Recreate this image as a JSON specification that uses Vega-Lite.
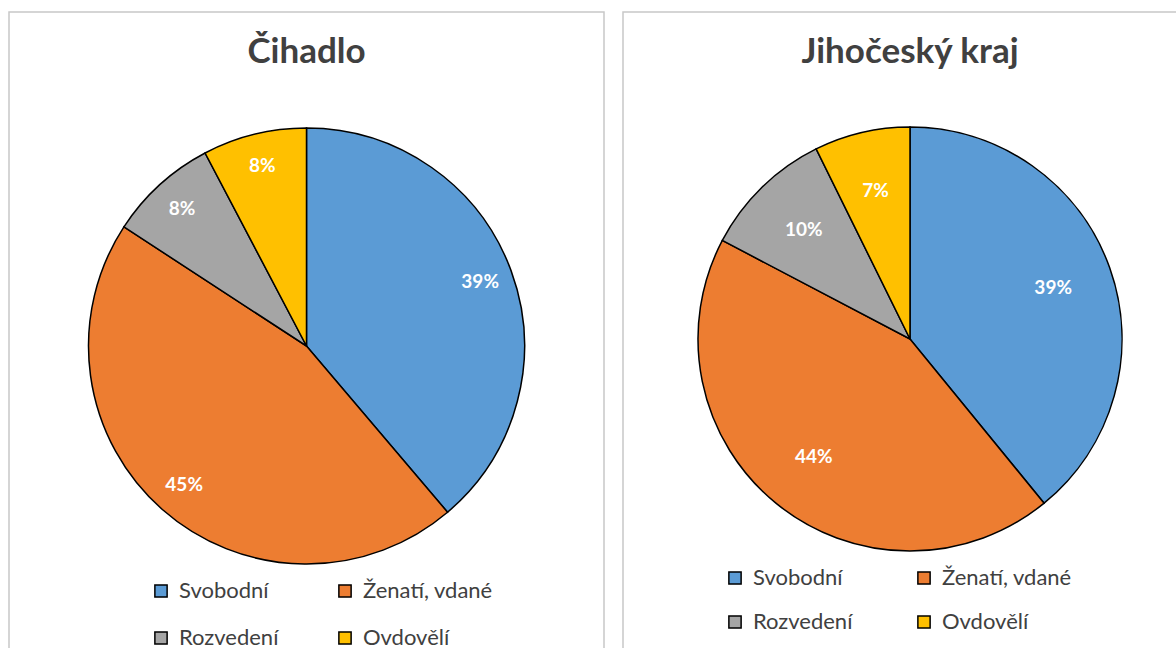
{
  "$schema": "https://vega.github.io/schema/vega-lite/v6.json",
  "padding": {"left": 8, "top": 11, "right": 0, "bottom": 0},
  "background": "white",
  "datasets": {
    "cihadlo": [
      {"stav": "Svobodní", "podil": 0.388, "poradi": 1},
      {"stav": "Ženatí, vdané", "podil": 0.454, "poradi": 2},
      {"stav": "Rozvedení", "podil": 0.081, "poradi": 3},
      {"stav": "Ovdovělí", "podil": 0.077, "poradi": 4}
    ],
    "jihocesky": [
      {"stav": "Svobodní", "podil": 0.391, "poradi": 1},
      {"stav": "Ženatí, vdané", "podil": 0.436, "poradi": 2},
      {"stav": "Rozvedení", "podil": 0.100, "poradi": 3},
      {"stav": "Ovdovělí", "podil": 0.073, "poradi": 4}
    ]
  },
  "spacing": 17,
  "hconcat": [
    {
      "width": 595,
      "height": 668,
      "view": {"stroke": "#C8C8C8", "strokeWidth": 1.5},
      "title": {"text": "Čihadlo", "fontSize": 35, "font": "Lato", "fontWeight": "bold", "color": "#404040", "anchor": "middle", "offset": 0, "baseline": "alphabetic", "dy": 86},
      "data": {"name": "cihadlo"},
      "encoding": {
        "theta": {"field": "podil", "type": "quantitative", "stack": true},
        "order": {"field": "poradi", "type": "quantitative"}
      },
      "layer": [
        {
          "mark": {"type": "arc", "radius": 218, "stroke": "black", "strokeWidth": 1.5},
          "encoding": {
            "color": {
              "field": "stav", "type": "nominal",
              "scale": {"domain": ["Svobodní", "Ženatí, vdané", "Rozvedení", "Ovdovělí"], "range": ["#5B9BD5", "#ED7D31", "#A5A5A5", "#FFC000"]},
              "legend": {"orient": "none", "direction": "horizontal", "legendX": 141, "legendY": 568, "columns": 2, "columnPadding": 55, "rowPadding": 25}
            }
          }
        },
        {
          "mark": {"type": "text", "radius": 185, "color": "white", "fontWeight": "bold", "fontSize": 19, "font": "Lato"},
          "encoding": {
            "detail": {"field": "stav", "type": "nominal"},
            "text": {"field": "podil", "type": "quantitative", "format": ".0%"}
          }
        }
      ]
    },
    {
      "width": 574,
      "height": 654,
      "view": {"stroke": "#C8C8C8", "strokeWidth": 1.5},
      "title": {"text": "Jihočeský kraj", "fontSize": 35, "font": "Lato", "fontWeight": "bold", "color": "#404040", "anchor": "middle", "offset": 0, "baseline": "alphabetic", "dy": 86},
      "data": {"name": "jihocesky"},
      "encoding": {
        "theta": {"field": "podil", "type": "quantitative", "stack": true},
        "order": {"field": "poradi", "type": "quantitative"}
      },
      "layer": [
        {
          "mark": {"type": "arc", "radius": 212, "stroke": "black", "strokeWidth": 1.5},
          "encoding": {
            "color": {
              "field": "stav", "type": "nominal",
              "scale": {"domain": ["Svobodní", "Ženatí, vdané", "Rozvedení", "Ovdovělí"], "range": ["#5B9BD5", "#ED7D31", "#A5A5A5", "#FFC000"]},
              "legend": {"orient": "none", "direction": "horizontal", "legendX": 101, "legendY": 555, "columns": 2, "columnPadding": 60, "rowPadding": 22}
            }
          }
        },
        {
          "mark": {"type": "text", "radius": 152, "color": "white", "fontWeight": "bold", "fontSize": 19, "font": "Lato"},
          "encoding": {
            "detail": {"field": "stav", "type": "nominal"},
            "text": {"field": "podil", "type": "quantitative", "format": ".0%"}
          }
        }
      ]
    }
  ],
  "resolve": {"legend": {"color": "independent"}},
  "config": {
    "view": {"stroke": "#C8C8C8", "strokeWidth": 1.5},
    "legend": {
      "title": null,
      "symbolType": "square",
      "symbolSize": 150,
      "symbolStrokeColor": "black",
      "symbolStrokeWidth": 1.5,
      "symbolOpacity": 1,
      "labelFont": "Lato",
      "labelFontSize": 22,
      "labelColor": "#404040",
      "labelOffset": 7
    }
  }
}
